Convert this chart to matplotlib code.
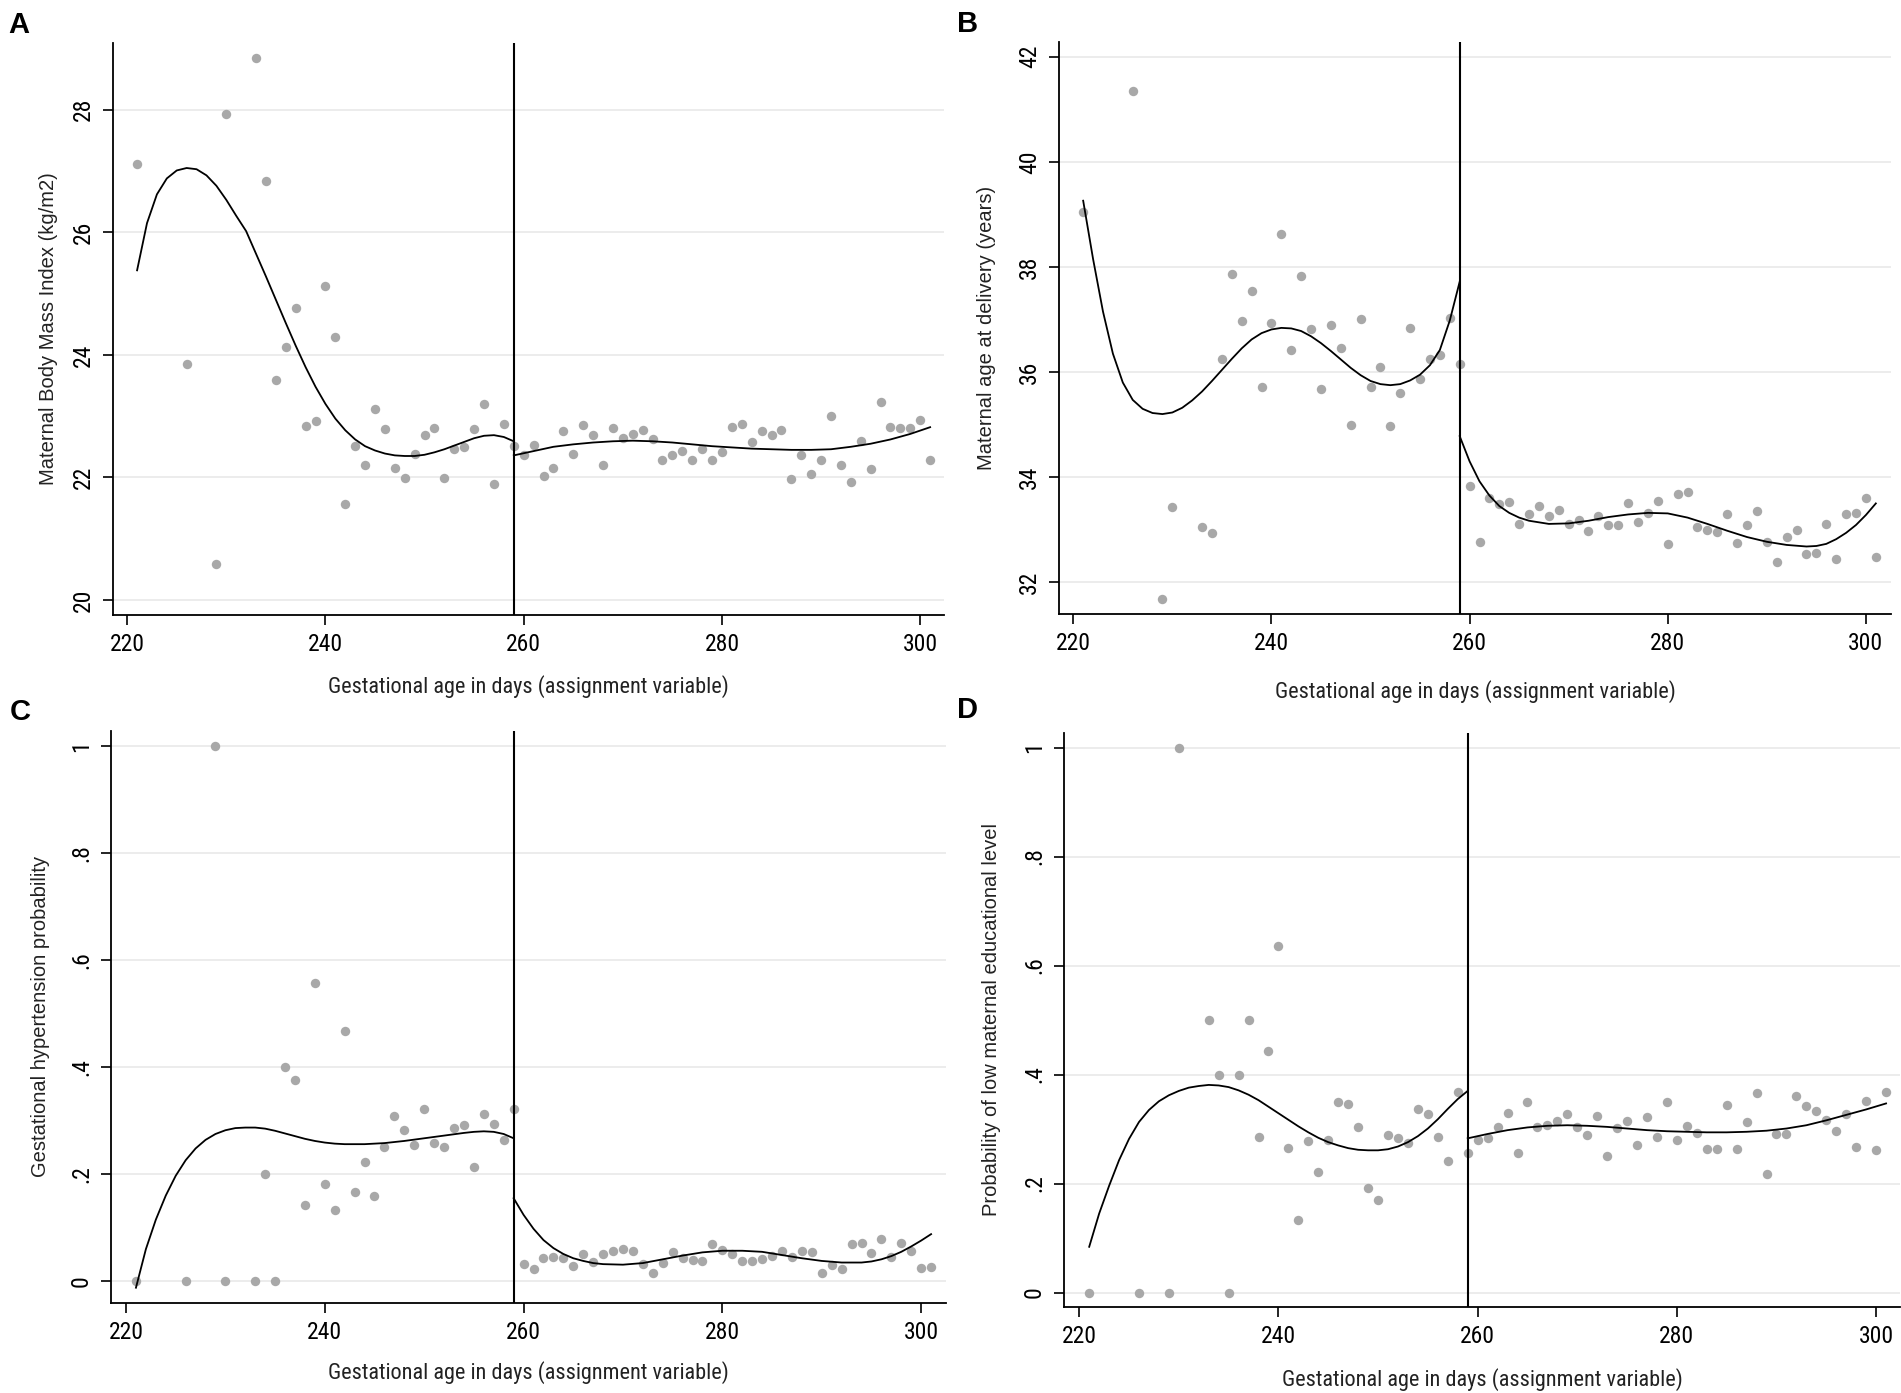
import matplotlib
# headless backend
matplotlib.use('Agg')
import matplotlib.pyplot as plt
from matplotlib import font_manager as fm

W, H = 1901, 1393

REGULAR = ['Liberation Sans', 'DejaVu Sans']

# gestational age (days) of each binned point
days = [221, 226, 229, 230, 233, 234, 235, 236, 237, 238, 239, 240, 241, 242,
        243, 244, 245, 246, 247, 248, 249, 250, 251, 252, 253, 254, 255, 256,
        257, 258, 259, 260, 261, 262, 263, 264, 265, 266, 267, 268, 269, 270,
        271, 272, 273, 274, 275, 276, 277, 278, 279, 280, 281, 282, 283, 284,
        285, 286, 287, 288, 289, 290, 291, 292, 293, 294, 295, 296, 297, 298,
        299, 300, 301]

# A: maternal BMI
bmi = [27.11, 23.85, 20.58, 27.93, 28.85, 26.83, 23.59, 24.13, 24.76, 22.84,
       22.92, 25.13, 24.29, 21.57, 22.51, 22.21, 23.11, 22.79, 22.16, 21.99,
       22.39, 22.69, 22.81, 21.99, 22.47, 22.49, 22.79, 23.20, 21.90, 22.88,
       22.51, 22.37, 22.53, 22.03, 22.16, 22.76, 22.38, 22.85, 22.70, 22.20,
       22.81, 22.65, 22.71, 22.78, 22.62, 22.29, 22.37, 22.43, 22.29, 22.46,
       22.29, 22.41, 22.82, 22.88, 22.58, 22.76, 22.69, 22.78, 21.98, 22.36,
       22.06, 22.29, 23.00, 22.21, 21.93, 22.59, 22.13, 23.23, 22.82, 22.81,
       22.81, 22.94, 22.28]
bmi_fit_left_x = [221, 222, 223, 224, 225, 226, 227, 228, 229, 230, 231, 232,
                  233, 234, 235, 236, 237, 238, 239, 240, 241, 242, 243, 244,
                  245, 246, 247, 248, 249, 250, 251, 252, 253, 254, 255, 256,
                  257, 258, 259]
bmi_fit_left_y = [25.38, 26.15, 26.62, 26.88, 27.01, 27.05, 27.03, 26.93, 26.76,
                  26.53, 26.27, 26.02, 25.65, 25.28, 24.90, 24.52, 24.15, 23.80,
                  23.48, 23.20, 22.96, 22.77, 22.62, 22.51, 22.44, 22.39, 22.36,
                  22.35, 22.35, 22.37, 22.41, 22.46, 22.52, 22.58, 22.64, 22.68,
                  22.69, 22.66, 22.59]
bmi_fit_right_x = [259, 261, 263, 265, 267, 269, 271, 273, 275, 277, 279, 281,
                   283, 285, 287, 289, 291, 293, 295, 297, 299, 301]
bmi_fit_right_y = [22.36, 22.43, 22.50, 22.54, 22.57, 22.59, 22.60, 22.59, 22.57,
                   22.54, 22.51, 22.49, 22.47, 22.46, 22.45, 22.45, 22.46, 22.50,
                   22.55, 22.62, 22.71, 22.82]

# B: maternal age at delivery
age = [39.04, 41.34, 31.69, 33.43, 33.06, 32.93, 36.25, 37.86, 36.98, 37.54,
       35.71, 36.94, 38.62, 36.42, 37.83, 36.82, 35.68, 36.89, 36.45, 34.99,
       37.01, 35.71, 36.10, 34.97, 35.60, 36.83, 35.86, 36.24, 36.33, 37.03,
       36.15, 33.84, 32.76, 33.60, 33.49, 33.53, 33.10, 33.30, 33.45, 33.27,
       33.38, 33.10, 33.18, 32.98, 33.27, 33.08, 33.08, 33.50, 33.15, 33.32,
       33.54, 32.72, 33.68, 33.71, 33.06, 33.00, 32.96, 33.29, 32.75, 33.08,
       33.36, 32.76, 32.38, 32.87, 33.00, 32.54, 32.55, 33.11, 32.45, 33.30,
       33.32, 33.60, 32.48]
age_fit_left_x = [221, 222, 223, 224, 225, 226, 227, 228, 229, 230, 231, 232,
                  233, 234, 235, 236, 237, 238, 239, 240, 241, 242, 243, 244,
                  245, 246, 247, 248, 249, 250, 251, 252, 253, 254, 255, 256,
                  257, 258, 259]
age_fit_left_y = [39.26, 38.15, 37.15, 36.35, 35.80, 35.47, 35.30, 35.22, 35.20,
                  35.23, 35.32, 35.46, 35.63, 35.83, 36.04, 36.25, 36.45, 36.62,
                  36.74, 36.81, 36.84, 36.83, 36.78, 36.68, 36.55, 36.40, 36.24,
                  36.08, 35.94, 35.83, 35.77, 35.75, 35.77, 35.84, 35.95, 36.13,
                  36.42, 36.98, 37.72]
age_fit_right_x = [259, 260, 261, 262, 263, 264, 265, 266, 268, 270, 272, 274,
                   276, 278, 280, 282, 284, 286, 288, 290, 292, 294, 295, 296,
                   297, 298, 299, 300, 301]
age_fit_right_y = [34.78, 34.30, 33.92, 33.65, 33.45, 33.32, 33.23, 33.17, 33.11,
                   33.12, 33.17, 33.24, 33.29, 33.32, 33.31, 33.23, 33.11, 32.98,
                   32.86, 32.77, 32.71, 32.68, 32.69, 32.73, 32.82, 32.94, 33.09,
                   33.28, 33.50]

# C: gestational hypertension probability
ght = [0.0, 0.0, 1.0, 0.0, 0.0, 0.2, 0.0, 0.40, 0.375, 0.143, 0.556, 0.182,
       0.133, 0.467, 0.167, 0.222, 0.16, 0.25, 0.308, 0.283, 0.255, 0.321,
       0.258, 0.25, 0.286, 0.292, 0.214, 0.313, 0.293, 0.264, 0.321, 0.033,
       0.023, 0.044, 0.046, 0.043, 0.029, 0.05, 0.036, 0.05, 0.057, 0.06,
       0.057, 0.032, 0.015, 0.035, 0.055, 0.043, 0.04, 0.038, 0.069, 0.059,
       0.05, 0.038, 0.038, 0.042, 0.048, 0.057, 0.046, 0.057, 0.054, 0.015,
       0.03, 0.023, 0.069, 0.072, 0.052, 0.079, 0.046, 0.072, 0.056, 0.025,
       0.027]
ght_fit_left_x = [221, 222, 223, 224, 225, 226, 227, 228, 229, 230, 231, 232,
                  233, 234, 235, 236, 237, 238, 239, 240, 241, 242, 244, 246,
                  248, 250, 252, 254, 255, 256, 257, 258, 259]
ght_fit_left_y = [-0.012, 0.06, 0.115, 0.16, 0.197, 0.226, 0.248, 0.264, 0.275,
                  0.282, 0.286, 0.287, 0.287, 0.285, 0.281, 0.276, 0.271, 0.266,
                  0.262, 0.259, 0.257, 0.256, 0.256, 0.258, 0.262, 0.267, 0.272,
                  0.277, 0.279, 0.280, 0.279, 0.275, 0.267]
ght_fit_right_x = [259, 260, 261, 262, 263, 264, 265, 266, 267, 268, 270, 272,
                   274, 276, 278, 280, 282, 284, 286, 288, 290, 292, 294, 295,
                   296, 297, 298, 299, 300, 301]
ght_fit_right_y = [0.155, 0.124, 0.098, 0.077, 0.062, 0.051, 0.043, 0.038, 0.034,
                   0.032, 0.031, 0.034, 0.041, 0.048, 0.054, 0.057, 0.057, 0.055,
                   0.049, 0.043, 0.038, 0.035, 0.035, 0.037, 0.041, 0.047, 0.055,
                   0.065, 0.076, 0.088]

# D: low maternal educational level probability
edu = [0.0, 0.0, 0.0, 1.0, 0.5, 0.4, 0.0, 0.4, 0.5, 0.286, 0.444, 0.636,
       0.266, 0.133, 0.278, 0.222, 0.28, 0.35, 0.346, 0.304, 0.192, 0.17,
       0.29, 0.283, 0.275, 0.337, 0.327, 0.286, 0.241, 0.368, 0.256, 0.28,
       0.283, 0.304, 0.33, 0.256, 0.35, 0.304, 0.307, 0.314, 0.328, 0.304,
       0.29, 0.324, 0.251, 0.302, 0.315, 0.27, 0.323, 0.286, 0.35, 0.28,
       0.306, 0.293, 0.264, 0.264, 0.345, 0.264, 0.313, 0.366, 0.217, 0.291,
       0.291, 0.36, 0.343, 0.333, 0.317, 0.297, 0.328, 0.268, 0.352, 0.261,
       0.368]
edu_fit_left_x = [221, 222, 223, 224, 225, 226, 227, 228, 229, 230, 231, 232,
                  233, 234, 235, 236, 237, 238, 239, 240, 241, 242, 243, 244,
                  245, 246, 247, 248, 249, 250, 251, 252, 253, 254, 255, 256,
                  257, 258, 259]
edu_fit_left_y = [0.084, 0.145, 0.196, 0.243, 0.282, 0.313, 0.335, 0.351, 0.362,
                  0.370, 0.376, 0.379, 0.381, 0.380, 0.377, 0.371, 0.363, 0.353,
                  0.341, 0.329, 0.317, 0.305, 0.294, 0.284, 0.276, 0.270, 0.265,
                  0.262, 0.261, 0.261, 0.263, 0.268, 0.276, 0.287, 0.301, 0.318,
                  0.337, 0.355, 0.370]
edu_fit_right_x = [259, 261, 263, 265, 267, 269, 271, 273, 275, 277, 279, 281,
                   283, 285, 287, 289, 291, 293, 295, 297, 299, 301]
edu_fit_right_y = [0.283, 0.291, 0.298, 0.303, 0.306, 0.307, 0.306, 0.304, 0.301,
                   0.298, 0.296, 0.295, 0.294, 0.294, 0.295, 0.297, 0.301, 0.307,
                   0.316, 0.326, 0.336, 0.347]

x_ticks = [220, 240, 260, 280, 300]
cutoff = 259
x_title = 'Gestational age in days (assignment variable)'


def narrow_font(size):
    """Pick a condensed sans face if one is installed, else a smaller regular one."""
    prefs = ['Liberation Sans Narrow', 'Arial Narrow', 'Roboto Condensed',
             'Noto Sans Condensed', 'Open Sans Condensed', 'DejaVu Sans Condensed']
    fonts = fm.fontManager.ttflist
    for p in prefs:
        for f in fonts:
            if f.name == p and f.style == 'normal' and 'Bold' not in f.fname:
                return fm.FontProperties(fname=f.fname, size=size)
    for f in fonts:
        fn = f.fname.lower()
        if ('narrow' in fn or 'condensed' in fn) and 'bold' not in fn \
                and 'italic' not in fn and 'oblique' not in fn \
                and 'light' not in fn and 'medium' not in fn and 'semi' not in fn \
                and 'extra' not in fn and 'black' not in fn and 'thin' not in fn:
            return fm.FontProperties(fname=f.fname, size=size)
    return fm.FontProperties(family=REGULAR, size=size * 0.86)


TICK_FONT = narrow_font(17)
XLAB_FONT = narrow_font(16)

fig = plt.figure(figsize=(W / 100, H / 100), dpi=100)
fig.patch.set_facecolor('white')


def px_axes(left, top, right, bottom):
    return fig.add_axes([left / W, 1 - bottom / H, (right - left) / W, (bottom - top) / H])


def draw_panel(ax, values, fit_l, fit_r, xlim, ylim, yticks, yticklabels):
    ax.scatter(days, values, s=46, color='#a8a8a8', linewidths=0, zorder=2)
    ax.plot(fit_l[0], fit_l[1], color='black', lw=1.3, zorder=3)
    ax.plot(fit_r[0], fit_r[1], color='black', lw=1.3, zorder=3)
    ax.axvline(cutoff, color='black', lw=1.5, zorder=3)
    ax.set_xlim(*xlim)
    ax.set_ylim(*ylim)
    ax.set_xticks(x_ticks)
    ax.set_xticklabels([str(t) for t in x_ticks], fontproperties=TICK_FONT)
    ax.set_yticks(yticks)
    ax.set_yticklabels(yticklabels, fontproperties=TICK_FONT, rotation=90, va='center')
    ax.yaxis.grid(True, color='#ebebeb', lw=1.3)
    ax.set_axisbelow(True)
    for s in ['top', 'right']:
        ax.spines[s].set_visible(False)
    for s in ['left', 'bottom']:
        ax.spines[s].set_color('black')
        ax.spines[s].set_linewidth(1.3)
    ax.tick_params(direction='out', length=7, width=1.2, colors='black', pad=6)


axA = px_axes(112.7, 43, 944, 615)
draw_panel(axA, bmi, (bmi_fit_left_x, bmi_fit_left_y), (bmi_fit_right_x, bmi_fit_right_y),
           (218.54, 302.4), (19.755, 29.09), [20, 22, 24, 26, 28], ['20', '22', '24', '26', '28'])

axB = px_axes(1059, 42, 1890.7, 614.3)
draw_panel(axB, age, (age_fit_left_x, age_fit_left_y), (age_fit_right_x, age_fit_right_y),
           (218.56, 302.5), (31.39, 42.28), [32, 34, 36, 38, 40, 42],
           ['32', '34', '36', '38', '40', '42'])

prob_ticks = [0, 0.2, 0.4, 0.6, 0.8, 1.0]
prob_labels = ['0', '.2', '.4', '.6', '.8', '1']

axC = px_axes(111, 730.7, 946, 1302.7)
draw_panel(axC, ght, (ght_fit_left_x, ght_fit_left_y), (ght_fit_right_x, ght_fit_right_y),
           (218.49, 302.5), (-0.04, 1.028), prob_ticks, prob_labels)

axD = px_axes(1064, 732.8, 1900, 1307.3)
draw_panel(axD, edu, (edu_fit_left_x, edu_fit_left_y), (edu_fit_right_x, edu_fit_right_y),
           (218.47, 302.4), (-0.027, 1.027), prob_ticks, prob_labels)

# axis titles placed in pixel coordinates
y_titles = [
    (49, 329, 'Maternal Body Mass Index (kg/m2)'),
    (986.6, 328, 'Maternal age at delivery (years)'),
    (41, 1016.7, 'Gestational hypertension probability'),
    (991, 1020, 'Probability of low maternal educational level'),
]
for x, y, t in y_titles:
    fig.text(x / W, 1 - y / H, t, rotation=90, ha='center', va='center',
             fontsize=14.5, family=REGULAR, color='#222222')

x_titles = [(528, 687), (1475, 691.7), (528, 1372.7), (1482, 1379.4)]
for x, y in x_titles:
    fig.text(x / W, 1 - y / H, x_title, ha='center', va='center',
             fontproperties=XLAB_FONT, color='#222222')

panel_labels = [(8, 33, 'A'), (957, 32, 'B'), (10, 720, 'C'), (957, 718, 'D')]
for x, y, t in panel_labels:
    fig.text(x / W, 1 - y / H, t, ha='left', va='baseline', fontsize=21,
             fontweight='bold', family=REGULAR)

fig.savefig('out.png', dpi=100, facecolor='white')
